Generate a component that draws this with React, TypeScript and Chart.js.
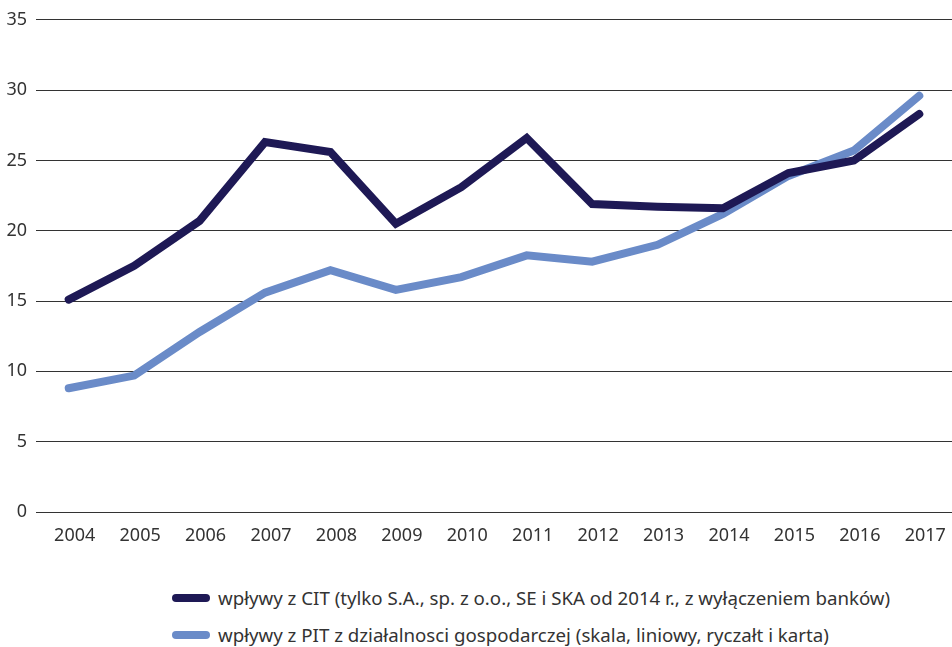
import React, { useEffect, useRef } from "react";
import { Chart, registerables } from "chart.js";

Chart.register(...registerables);

const years = ["2004","2005","2006","2007","2008","2009","2010","2011","2012","2013","2014","2015","2016","2017"];
const citValues = [15.1, 17.5, 20.7, 26.3, 25.6, 20.5, 23.1, 26.6, 21.9, 21.7, 21.6, 24.1, 25.0, 28.3];
const pitValues = [8.8, 9.7, 12.8, 15.6, 17.2, 15.8, 16.7, 18.25, 17.8, 19.0, 21.2, 23.9, 25.7, 29.6];
const citLabel = "wpływy z CIT (tylko S.A., sp. z o.o., SE i SKA od 2014 r., z wyłączeniem banków)";
const pitLabel = "wpływy z PIT z działalnosci gospodarczej (skala, liniowy, ryczałt i karta)";
const citColor = "#1e1955";
const pitColor = "#6a8bc8";
const FONT = "'Noto Sans', sans-serif";

export default function App() {
  const ref = useRef<HTMLCanvasElement | null>(null);
  useEffect(() => {
    document.body.style.margin = "0";
    const chart = new Chart(ref.current!, {
      type: "line",
      data: {
        labels: years,
        datasets: [
          { label: citLabel, data: citValues, borderColor: citColor, backgroundColor: citColor, borderWidth: 8, pointRadius: 0, borderCapStyle: "round", borderJoinStyle: "miter", tension: 0 },
          { label: pitLabel, data: pitValues, borderColor: pitColor, backgroundColor: pitColor, borderWidth: 8, pointRadius: 0, borderCapStyle: "round", borderJoinStyle: "miter", tension: 0 },
        ],
      },
      options: {
        animation: false,
        responsive: false,
        layout: { padding: { top: 19, right: 0, left: 0, bottom: 0 } },
        plugins: { legend: { display: false }, tooltip: { enabled: false } },
        scales: {
          x: {
            offset: true,
            grid: { display: false },
            border: { display: false },
            ticks: { color: "#333", font: { family: FONT, size: 18 }, padding: 5, maxRotation: 0, labelOffset: 6 },
            afterFit: (s: any) => { s.height = 48; },
          },
          y: {
            min: 0,
            max: 35,
            ticks: { stepSize: 5, color: "#333", font: { family: FONT, size: 18 }, padding: 9 },
            grid: { color: "#333", lineWidth: 1, drawTicks: false },
            border: { display: false },
            afterFit: (s: any) => { s.width = 36; },
          },
        },
      },
    });
    return () => chart.destroy();
  }, []);

  const row = (color: string, text: string) => (
    <div style={{ display: "flex", alignItems: "center", height: 37 }}>
      <div style={{ width: 38, height: 8, borderRadius: 4, background: color, marginRight: 8 }} />
      <span style={{ fontFamily: FONT, fontSize: 18.7, color: "#333", whiteSpace: "nowrap" }}>{text}</span>
    </div>
  );

  return (
    <div style={{ width: 952, height: 647, position: "relative", background: "#fff" }}>
      <canvas ref={ref} width={952} height={560} style={{ display: "block" }} />
      <div style={{ position: "absolute", left: 172, top: 579 }}>
        {row(citColor, citLabel)}
        {row(pitColor, pitLabel)}
      </div>
    </div>
  );
}
